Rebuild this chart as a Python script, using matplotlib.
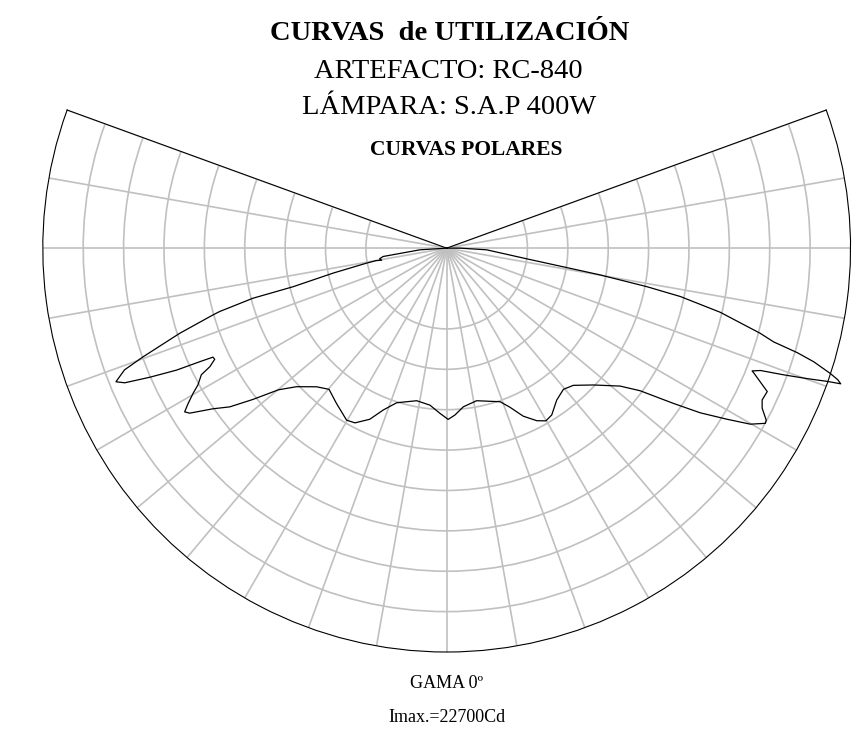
import numpy as np
import matplotlib.pyplot as plt

# Polar photometric curve, gamma measured from nadir (negative = left, positive = right)
gamma_deg = [-90.0, -86.4, -82.5, -81.0, -79.5, -80.0, -79.4, -77.6, -75.9, -75.5,
             -74.4, -74.05, -72.3, -70.3, -69.3, -68.0, -67.3, -66.5, -65.7, -65.3,
             -65.0, -64.4, -63.4, -62.7, -61.2, -60.2, -59.0, -58.0, -57.3, -55.5,
             -53.8, -52.0, -49.9, -47.3, -43.2, -39.8, -35.4, -30.2, -27.7, -24.2,
             -21.4, -17.9, -11.1, -6.1, -2.3, 0.5, 2.85, 6.0, 11.1, 19.2,
             21.7, 24.5, 27.6, 29.9, 32.2, 35.9, 39.6, 42.7, 47.0, 51.5,
             53.6, 55.6, 57.0, 58.6, 59.9, 61.2, 61.7, 63.1, 64.3, 65.9,
             66.9, 67.9, 68.1, 68.7, 69.4, 70.1, 70.7, 71.0, 71.4, 71.9,
             72.8, 73.4, 74.0, 74.8, 76.8, 78.3, 79.1, 80.1, 80.8, 82.4,
             87.6, 90.0, 90.0]
intensity_cd = [0, 1460, 3490, 3700, 3600, 3900, 4440, 6330, 8620, 10900,
                12840, 13240, 15270, 17570, 18760, 19430, 19010, 17640, 16150, 14810,
                14050, 14010, 14430, 15040, 15460, 15920, 16430, 16830, 16640, 15450,
                14640, 13380, 11980, 11130, 10360, 10010, 10370, 10840, 10750, 10220,
                9470, 8850, 8470, 8600, 9010, 9330, 9100, 8690, 8470, 8860,
                9330, 10060, 10610, 10850, 10740, 10220, 9980, 10170, 10930, 12070,
                13090, 14970, 16470, 17890, 19120, 19810, 19770, 19270, 19070, 19130,
                18570, 18050, 17930, 18350, 19620, 20880, 21960, 22700, 22480, 21990,
                20930, 19920, 18530, 17700, 15310, 13000, 11110, 8490, 6630, 4400,
                2180, 730, 0]

r_max = 22000
r_grid = [4400, 6600, 8800, 11000, 13200, 15400, 17600, 19800]
theta_grid = list(range(-110, 111, 10))

title = "CURVAS  de UTILIZACIÓN"
subtitle1 = "ARTEFACTO: RC-840"
subtitle2 = "LÁMPARA: S.A.P 400W"
subtitle3 = "CURVAS POLARES"
bottom1 = "GAMA 0º"
bottom2 = "Imax.=22700Cd"

plt.rcParams['font.family'] = ['Liberation Serif', 'DejaVu Serif']

fig = plt.figure(figsize=(8.58, 7.32), dpi=100)
# the wedge only fills part of the polar axes box, so the box is made larger
ax = fig.add_axes([-0.1896, -0.0791, 1.4204, 1.1172], projection='polar')
ax.set_theta_zero_location('S')
ax.set_theta_direction(1)
ax.set_thetamin(-110)
ax.set_thetamax(110)
ax.set_rlim(0, r_max)

ax.set_thetagrids(theta_grid, labels=[])
ax.set_rgrids(r_grid, labels=[])
ax.grid(True, color='#c0c0c0', linewidth=1.2)
ax.tick_params(length=0)
for sp in ax.spines.values():
    sp.set_color('black')
    sp.set_linewidth(0.8)

ax.plot(np.radians(gamma_deg), intensity_cd, color='black', linewidth=0.9, clip_on=False)

fig.text(0.524, 1 - 34 / 732, title, ha='center', va='center', fontsize=20.5, fontweight='bold')
fig.text(0.522, 1 - 72 / 732, subtitle1, ha='center', va='center', fontsize=20.5)
fig.text(0.524, 1 - 107 / 732, subtitle2, ha='center', va='center', fontsize=20.5)
fig.text(0.543, 1 - 150 / 732, subtitle3, ha='center', va='center', fontsize=15.5, fontweight='bold')
fig.text(0.521, 1 - 683 / 732, bottom1, ha='center', va='center', fontsize=13)
fig.text(0.521, 1 - 718 / 732, bottom2, ha='center', va='center', fontsize=13)

fig.savefig('out.png', dpi=100)
